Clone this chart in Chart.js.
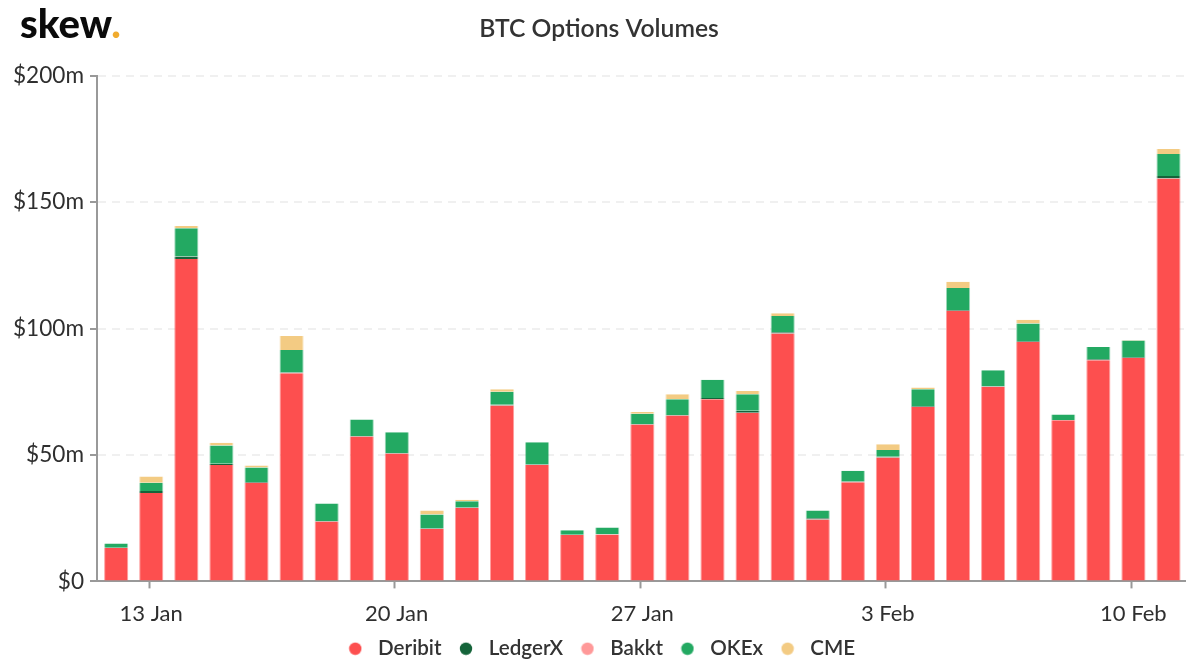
<!DOCTYPE html>
<html>
<head>
<meta charset="utf-8">
<title>BTC Options Volumes</title>
<script src="https://cdn.jsdelivr.net/npm/chart.js@4"></script>
<style>
  html, body { margin: 0; padding: 0; background: #fff; }
  #wrap { position: relative; width: 1200px; height: 670px; overflow: hidden; }
  #logo { position: absolute; left: 20px; top: -1px; font: 900 40px Lato, sans-serif; color: #0b0b0b; }
  #logo span { color: #f0ab2e; }
</style>
</head>
<body>
<div id="wrap">
  <canvas id="chart" width="1200" height="670"></canvas>
  <div id="logo">skew<span>.</span></div>
</div>
<script>
const dates = ['12 Jan','13 Jan','14 Jan','15 Jan','16 Jan','17 Jan','18 Jan','19 Jan','20 Jan','21 Jan','22 Jan',
  '23 Jan','24 Jan','25 Jan','26 Jan','27 Jan','28 Jan','29 Jan','30 Jan','31 Jan','1 Feb','2 Feb','3 Feb','4 Feb',
  '5 Feb','6 Feb','7 Feb','8 Feb','9 Feb','10 Feb','11 Feb'];
const tickLabels = ['13 Jan','20 Jan','27 Jan','3 Feb','10 Feb'];
const yTicks = [0, 50, 100, 150, 200];

// volumes in $m
const deribit = [13.2,35,127.5,46,39,82.3,23.7,57.3,50.6,20.7,29,69.6,46,18.3,18.5,62,65.6,72,66.7,98,24.5,39.2,49,69,107,77,94.7,63.7,87.5,88.3,159.3];
const ledgerX = [0.1,0.7,1,0.5,0.3,0.3,0.2,0.2,0.2,0.2,0.2,0.3,0.2,0.1,0.1,0.2,0.2,0.5,0.8,0.5,0.5,0.3,0.3,0.3,0.3,0.2,0.3,0.1,0.3,0.3,1];
const bakkt = [0,0,0,0,0,0,0,0,0,0,0,0,0,0,0,0,0,0,0,0,0,0,0,0,0,0,0,0,0,0,0];
const okex = [1.7,3.3,11.2,7.2,5.7,8.9,6.9,6.5,8.2,5.6,2.5,5.1,8.8,1.8,2.7,4.1,6.2,7.2,6.5,6.5,3,4.3,2.7,6.7,8.7,6.3,7,2.2,4.9,6.7,8.7];
const cme = [0,2.5,0.8,1.1,0.8,5.5,0,0,0,1.5,0.6,1,0,0,0,0.7,2,0,1.3,1,0,0,2.2,0.7,2.5,0,1.5,0,0,0.2,2];

const seriesNames = ['Deribit','LedgerX','Bakkt','OKEx','CME'];
const seriesValues = [deribit, ledgerX, bakkt, okex, cme];
const seriesColors = ['#fd4f4f','#15643a','#ff9999','#23a962','#f3cb83'];
const edgeColors = ['rgba(253,79,79,.55)','rgba(21,100,58,.55)','rgba(255,153,153,.55)','rgba(35,169,98,.45)','rgba(243,203,131,.55)'];

const axisColor = '#999999';
const textColor = '#2f2f2f';

// round legend dot as a small canvas, so the gap to the text can be set with pointStyleWidth
function legendDot(color) {
  const c = document.createElement('canvas');
  c.width = 14;
  c.height = 14;
  const g = c.getContext('2d');
  g.fillStyle = color;
  g.beginPath();
  g.arc(7, 7, 6.2, 0, Math.PI * 2);
  g.fill();
  return c;
}

const datasets = seriesNames.map((name, s) => ({
  label: name,
  data: seriesValues[s].map((v, i) => ({ x: i, y: v })),
  backgroundColor: seriesColors[s],
  borderColor: edgeColors[s],
  borderWidth: { left: 1, right: 1, top: 0, bottom: 0 },
  pointStyle: legendDot(seriesColors[s]),
  barPercentage: 0.83,
  categoryPercentage: 0.83,
  stack: 'volumes'
}));

new Chart(document.getElementById('chart').getContext('2d'), {
  type: 'bar',
  data: { datasets: datasets },
  options: {
    responsive: false,
    animation: false,
    devicePixelRatio: 1,
    layout: { padding: { left: 13, right: 15, top: 0, bottom: 1 } },
    plugins: {
      tooltip: { enabled: false },
      title: {
        display: true,
        text: 'BTC Options Volumes',
        color: '#333333',
        font: { family: 'Lato', size: 24.7, weight: '600' },
        padding: { top: 14, bottom: 32 }
      },
      legend: {
        position: 'bottom',
        labels: {
          usePointStyle: true,
          pointStyleWidth: 25,
          padding: 12,
          color: '#333333',
          font: { family: 'Lato', size: 20.6, weight: '600' }
        }
      }
    },
    scales: {
      x: {
        type: 'linear',
        stacked: true,
        offset: false,
        min: -0.547,
        max: 30.47,
        afterBuildTicks: axis => {
          // the ticks sit slightly left of the bar centres in the original
          axis.ticks = tickLabels.map(l => ({ value: dates.indexOf(l) - 0.06 }));
        },
        afterFit: axis => { axis.height = 45; },
        border: { color: axisColor, width: 2 },
        grid: { offset: false, drawOnChartArea: false, tickColor: axisColor, tickWidth: 2, tickLength: 7 },
        ticks: {
          autoSkip: false,
          maxRotation: 0,
          padding: 12,
          labelOffset: 2,
          color: textColor,
          font: { family: 'Lato', size: 22 },
          callback: (v, i) => tickLabels[i]
        }
      },
      y: {
        stacked: true,
        min: 0,
        max: 200,
        afterBuildTicks: axis => { axis.ticks = yTicks.map(v => ({ value: v })); },
        afterFit: axis => { axis.width = 84; },
        border: { color: axisColor, width: 2, dash: [8, 6] },
        grid: { color: '#f0f0f0', lineWidth: 2, tickColor: axisColor, tickWidth: 2, tickLength: 7, tickBorderDash: [] },
        ticks: {
          padding: 6,
          color: textColor,
          font: { family: 'Lato', size: 22.6 },
          callback: v => v === 0 ? '$0' : '$' + v + 'm'
        }
      }
    }
  }
});
</script>
</body>
</html>
